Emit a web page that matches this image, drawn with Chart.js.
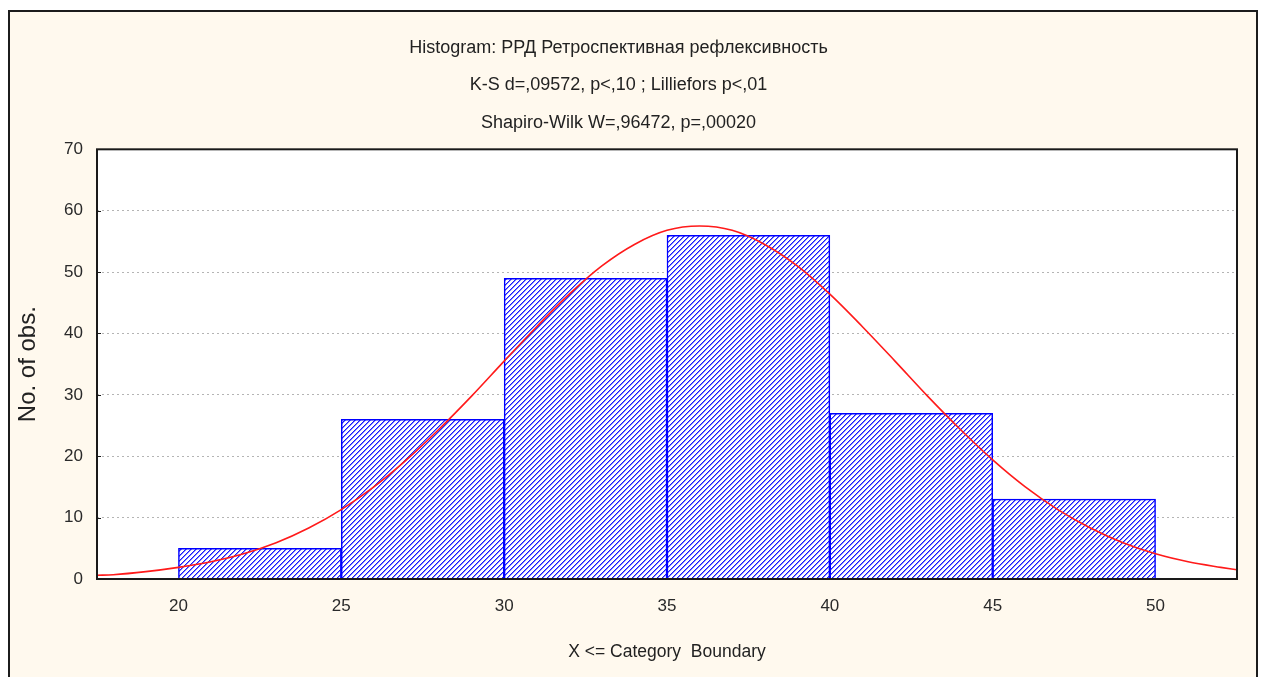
<!DOCTYPE html>
<html>
<head>
<meta charset="utf-8">
<script src="https://cdn.jsdelivr.net/npm/chart.js@4.4.1/dist/chart.umd.min.js"></script>
<style>
html,body{margin:0;padding:0;background:#ffffff;width:1264px;height:677px;overflow:hidden}
#frame{position:absolute;left:8px;top:10px;width:1246px;height:700px;border:2px solid #1c1c1c;border-bottom:none;background:#FFF9EE}
#c{position:absolute;left:0;top:0}
</style>
</head>
<body>
<div id="frame"></div>
<canvas id="c" width="1264" height="677"></canvas>
<script>
// ---- data ----
const titleLines = [
  'Histogram: РРД Ретроспективная рефлексивность',
  'K-S d=,09572, p<,10 ; Lilliefors p<,01',
  'Shapiro-Wilk W=,96472, p=,00020'
];
const xAxisTitle = 'X <= Category  Boundary';
const yAxisTitle = 'No. of obs.';

const binCenters = [22.5, 27.5, 32.5, 37.5, 42.5, 47.5];
const binCounts  = [5, 26, 49, 56, 27, 13];

const curveX = [17.5, 18, 19, 20, 21, 22, 23, 24, 25, 26, 27, 28, 29, 30, 31, 32, 33, 34, 35,
                36, 37, 38, 39, 40, 41, 42, 43, 44, 45, 46, 47, 48, 49, 50, 51, 52, 52.5];
const curveY = [0.6, 0.7, 1.2, 1.9, 2.8, 4.1, 5.9, 8.3, 11.3, 15.0, 19.4, 24.4, 29.8, 35.5, 41.1, 46.4, 51.0, 54.5, 56.8,
                57.5, 56.8, 54.5, 51.0, 46.4, 41.1, 35.5, 29.8, 24.4, 19.4, 15.0, 11.3, 8.3, 5.9, 4.1, 2.8, 1.9, 1.5];

const xTicks = [20, 25, 30, 35, 40, 45, 50];
const yTicks = [0, 10, 20, 30, 40, 50, 60, 70];

// ---- hatch pattern ----
function makeHatch() {
  const n = 5;
  const p = document.createElement('canvas');
  p.width = n; p.height = n;
  const g = p.getContext('2d');
  g.fillStyle = '#ffffff';
  g.fillRect(0, 0, n, n);
  for (let y = 0; y < n; y++) {
    const x0 = (n - 1 - y) % n;
    g.fillStyle = '#1a1aff';
    g.fillRect(x0, y, 1, 1);
    g.fillStyle = '#7f7fff';
    g.fillRect((x0 + 1) % n, y, 1, 1);
  }
  return g.createPattern(p, 'repeat');
}
const ctx = document.getElementById('c').getContext('2d');
const hatch = makeHatch();

const plotFrame = {
  id: 'plotFrame',
  beforeDraw(chart) {
    const a = chart.chartArea, c = chart.ctx;
    c.save();
    c.fillStyle = '#ffffff';
    c.fillRect(a.left, a.top, a.right - a.left, a.bottom - a.top);
    c.restore();
  },
  afterDraw(chart) {
    const a = chart.chartArea, c = chart.ctx;
    c.save();
    c.strokeStyle = '#1a1a1a';
    c.lineWidth = 2;
    c.strokeRect(a.left, a.top, a.right - a.left, a.bottom - a.top);
    const ys = chart.scales.y;
    c.lineWidth = 1;
    ys.ticks.forEach(t => {
      const py = Math.round(ys.getPixelForValue(t.value)) + 0.5;
      c.beginPath();
      c.moveTo(a.left, py);
      c.lineTo(a.left + 4, py);
      c.stroke();
    });
    c.restore();
  }
};

const FONT = "'Liberation Sans', Arial, sans-serif";

new Chart(ctx, {
  data: {
    datasets: [
      {
        type: 'line',
        data: curveX.map((x, i) => ({ x: x, y: curveY[i] })),
        borderColor: '#ff1a1a',
        borderWidth: 1.6,
        pointRadius: 0,
        tension: 0.4,
        cubicInterpolationMode: 'monotone',
        order: 0
      },
      {
        type: 'bar',
        data: binCenters.map((x, i) => ({ x: x, y: binCounts[i] })),
        backgroundColor: hatch,
        borderColor: '#0000ff',
        borderWidth: 1.5,
        borderSkipped: 'bottom',
        barPercentage: 1,
        categoryPercentage: 1,
        order: 1
      }
    ]
  },
  options: {
    responsive: false,
    animation: false,
    devicePixelRatio: 1,
    layout: { padding: { left: 0, right: 27, top: 0, bottom: 0 } },
    plugins: {
      legend: { display: false },
      tooltip: { enabled: false },
      title: {
        display: true,
        text: titleLines,
        color: '#222222',
        font: { family: FONT, size: 18, weight: 'normal', lineHeight: 2.08 },
        padding: { top: 29, bottom: 8 }
      }
    },
    scales: {
      x: {
        type: 'linear',
        min: 17.5,
        max: 52.5,
        offset: false,
        afterBuildTicks: s => { s.ticks = xTicks.map(v => ({ value: v })); },
        afterFit: s => { s.height = 98; },
        grid: { display: false, drawTicks: false, offset: false },
        border: { display: false },
        ticks: {
          color: '#2a2a2a',
          padding: 17,
          autoSkip: false,
          maxRotation: 0,
          font: { family: FONT, size: 17 }
        },
        title: {
          display: true,
          text: xAxisTitle,
          color: '#222222',
          font: { family: FONT, size: 17.5 },
          padding: { top: 0, bottom: 14 }
        }
      },
      y: {
        type: 'linear',
        min: 0,
        max: 70,
        afterBuildTicks: s => { s.ticks = yTicks.map(v => ({ value: v })); },
        afterFit: s => { s.width = 97; },
        grid: {
          drawTicks: false,
          color: c => (c.tick && (c.tick.value === 0 || c.tick.value === 70)) ? 'rgba(0,0,0,0)' : '#b4b4b4',
          lineWidth: 1
        },
        border: { display: false, dash: [2, 3] },
        ticks: {
          color: '#2a2a2a',
          padding: 14,
          font: { family: FONT, size: 17 }
        },
        title: {
          display: true,
          text: yAxisTitle,
          color: '#222222',
          font: { family: FONT, size: 24 },
          padding: { top: 14, bottom: 0 }
        }
      }
    }
  },
  plugins: [plotFrame]
});
</script>
</body>
</html>
